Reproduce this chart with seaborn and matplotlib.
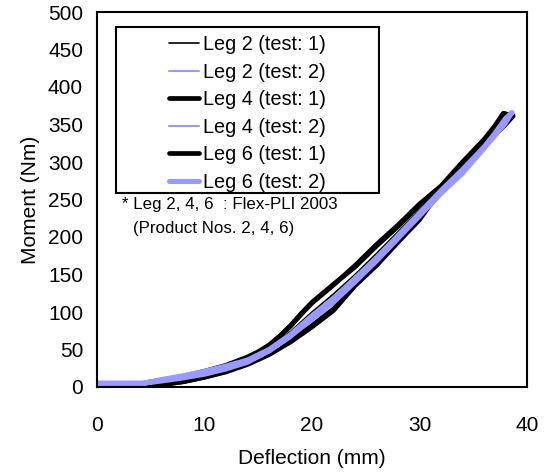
import matplotlib
matplotlib.use("Agg")
import matplotlib.pyplot as plt
import seaborn as sns
import pandas as pd
from matplotlib.patches import Rectangle

sns.set_theme(style="white")
plt.rcParams['font.family'] = ['Liberation Sans', 'DejaVu Sans']

# ---- data (deflection mm, moment Nm): loading branch then unloading branch ----
leg2_t1_x = [0, 2, 4, 5, 6, 8, 10, 12, 14, 16, 18, 20, 22, 24, 26, 28, 30, 32, 34, 36, 37, 38, 38.6,
             38, 37, 36, 34, 32, 30, 28, 26, 24, 22, 20, 18, 16, 14, 12, 10, 8, 6, 4.5, 0]
leg2_t1_y = [3, 3, 4, 6, 9, 14, 20, 28, 37, 52, 74, 100, 124, 150, 178, 207, 236, 262, 292, 322, 340, 358, 364,
             353, 338, 322, 292, 262, 232, 200, 170, 142, 115, 90, 68, 48, 33, 23, 16, 10, 5, 3, 3]

leg2_t2_x = [0, 2, 4.4, 6, 8, 10, 12, 14, 16, 18, 20, 22, 24, 26, 28, 30, 32, 34, 36, 37, 38, 38.6,
             38, 36, 34, 32, 30, 28, 26, 24, 22, 20, 18, 16, 14, 12, 10, 8, 6, 4.4, 0]
leg2_t2_y = [5, 5, 5, 10, 15, 21, 28, 35, 48, 68, 93, 117, 144, 171, 201, 231, 261, 289, 319, 337, 357, 365,
             351, 317, 284, 257, 227, 197, 167, 139, 112, 89, 66, 46, 32, 24, 17, 12, 8, 5, 5]

leg4_t1_x = [0, 2, 4, 5, 6, 8, 10, 12, 14, 15, 16, 17, 18, 19, 20, 22, 24, 26, 28, 30, 32, 34, 36, 37, 37.8, 38.7,
             38, 37, 36, 35, 34, 33, 32, 31, 30, 28, 26, 24, 22, 20, 18, 16, 14, 12, 10, 8, 6, 5, 4.5, 0]
leg4_t1_y = [2, 3, 4, 7, 9, 14, 20, 28, 39, 46, 55, 67, 81, 97, 112, 136, 162, 190, 216, 244, 268, 300, 330, 348, 365, 362,
             352, 338, 322, 305, 290, 277, 262, 245, 226, 195, 164, 136, 104, 82, 62, 45, 31, 21, 13, 7, 3, 1, 0, 0]

leg4_t2_x = [0, 2, 4.4, 6, 8, 10, 12, 14, 16, 18, 20, 22, 24, 26, 28, 30, 32, 34, 36, 37, 38, 38.7,
             38, 36, 34, 32, 30, 28, 26, 24, 22, 20, 18, 16, 14, 12, 10, 8, 6, 4.4, 0]
leg4_t2_y = [5, 5, 5, 10, 15, 20, 27, 34, 46, 65, 90, 114, 141, 168, 198, 228, 258, 287, 317, 336, 356, 366,
             353, 320, 288, 260, 230, 199, 170, 142, 115, 91, 69, 49, 34, 25, 18, 12, 8, 5, 5]

leg6_t1_x = [0, 2, 4, 5, 6, 8, 10, 12, 14, 15, 16, 17, 18, 19, 20, 22, 24, 26, 28, 30, 32, 34, 36, 37, 37.8, 38.7,
             38, 37, 36, 35, 34, 33, 32, 31, 30, 28, 26, 24, 22, 20, 18, 16, 14, 12, 10, 8, 6, 5, 4.5, 0]
leg6_t1_y = [2, 3, 4, 6, 9, 14, 21, 29, 40, 47, 56, 68, 82, 98, 113, 137, 160, 188, 214, 242, 266, 298, 328, 346, 364, 361,
             350, 336, 320, 303, 288, 275, 260, 243, 223, 193, 162, 135, 102, 80, 60, 43, 30, 20, 13, 7, 3, 1, 0, 0]

leg6_t2_x = [0, 2, 4.4, 6, 8, 10, 12, 14, 16, 18, 20, 22, 24, 26, 28, 30, 32, 34, 36, 37, 38, 38.6,
             38, 36, 34, 32, 30, 28, 26, 24, 22, 20, 18, 16, 14, 12, 10, 8, 6, 4.4, 0]
leg6_t2_y = [5, 5, 5, 10, 15, 21, 28, 36, 50, 70, 95, 118, 145, 172, 202, 232, 262, 290, 320, 338, 358, 366,
             352, 318, 285, 258, 228, 198, 168, 140, 113, 90, 68, 48, 33, 24, 17, 12, 8, 5, 5]

labels = ["Leg 2 (test: 1)", "Leg 2 (test: 2)", "Leg 4 (test: 1)",
          "Leg 4 (test: 2)", "Leg 6 (test: 1)", "Leg 6 (test: 2)"]
xs = [leg2_t1_x, leg2_t2_x, leg4_t1_x, leg4_t2_x, leg6_t1_x, leg6_t2_x]
ys = [leg2_t1_y, leg2_t2_y, leg4_t1_y, leg4_t2_y, leg6_t1_y, leg6_t2_y]

x_ticks = [0, 10, 20, 30, 40]
y_ticks = [0, 50, 100, 150, 200, 250, 300, 350, 400, 450, 500]

black = "#000000"
blue = "#9999ff"
colors = [black, blue, black, blue, black, blue]
widths = [1.2, 1.5, 3.4, 1.5, 3.4, 3.6]
order = [2, 4, 0, 1, 3, 5]  # drawing order

fig = plt.figure(figsize=(5.45, 4.74), dpi=100)
ax = fig.add_axes([97 / 545, 1 - 387 / 474, 430 / 545, 375 / 474])

handles = {}
for i in order:
    df = pd.DataFrame({"x": xs[i], "y": ys[i]})
    sns.lineplot(data=df, x="x", y="y", sort=False, estimator=None, ax=ax,
                 color=colors[i], linewidth=widths[i], label=labels[i])
    handles[i] = ax.get_lines()[-1]

ax.set_xlim(0, 40)
ax.set_ylim(0, 500)
ax.set_xticks(x_ticks)
ax.set_yticks(y_ticks)
ax.tick_params(direction="in", length=6, width=1.2, color="black",
               labelsize=15, labelcolor="black")
ax.tick_params(axis="x", pad=21)
ax.tick_params(axis="y", pad=10)
for s in ax.spines.values():
    s.set_visible(True)
    s.set_color("black")
    s.set_linewidth(1.5)
ax.set_xlabel("Deflection (mm)", fontsize=15, labelpad=10, color="black")
ax.set_ylabel("Moment (Nm)", fontsize=15, labelpad=6, color="black")

leg = ax.legend([handles[i] for i in range(6)], labels, loc="upper left",
                bbox_to_anchor=((169 - 97) / 430, (387 - 35) / 375),
                frameon=False, fontsize=14.3, handlelength=1.5,
                handletextpad=0.2, labelspacing=0.43, borderpad=0, borderaxespad=0)
for t in leg.get_texts():
    t.set_color("black")

ax.add_patch(Rectangle(((116 - 97) / 430, (387 - 193) / 375), (379 - 116) / 430, (193 - 27) / 375,
                       transform=ax.transAxes, fill=False, edgecolor="black", linewidth=1.5, zorder=5))

ax.text((122 - 97) / 430, (387 - 204) / 375, "* Leg 2, 4, 6  : Flex-PLI 2003",
        transform=ax.transAxes, fontsize=12.2, va="center", ha="left", color="black")
ax.text((133 - 97) / 430, (387 - 228) / 375, "(Product Nos. 2, 4, 6)",
        transform=ax.transAxes, fontsize=12.2, va="center", ha="left", color="black")

fig.savefig("out.png", dpi=100)
